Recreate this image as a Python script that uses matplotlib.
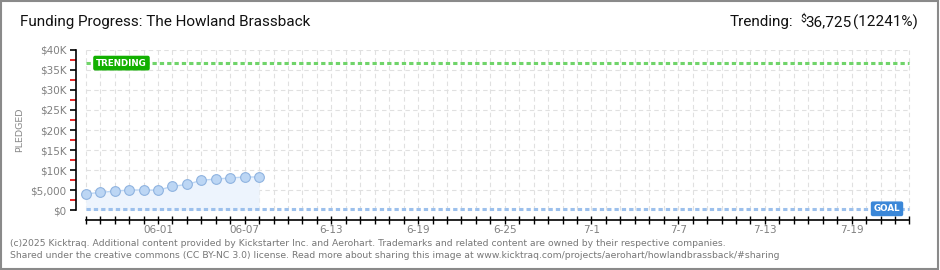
import matplotlib
matplotlib.use("Agg")
import matplotlib.pyplot as plt
from matplotlib.patches import Rectangle

# daily pledged totals, 05-27 .. 06-08
days = list(range(13))
pledged = [4000, 4400, 4700, 5000, 5000, 4950, 5900, 6400, 7400, 7750, 8000, 8250, 8250]
last_day = 57          # 07-23
goal = 300
trending = 36725

tick_days = [5, 11, 17, 23, 29, 35, 41, 47, 53]
tick_labels = ["06-01", "06-07", "6-13", "6-19", "6-25", "7-1", "7-7", "7-13", "7-19"]
ytick_vals = [0, 5000, 10000, 15000, 20000, 25000, 30000, 35000, 40000]
ytick_labels = ["$0", "$5,000", "$10K", "$15K", "$20K", "$25K", "$30K", "$35K", "$40K"]

W, H = 940, 270
fig = plt.figure(figsize=(W / 100, H / 100), dpi=100)
fig.patch.set_facecolor("white")
fig.patches.append(Rectangle((0.001, 0.002), 0.997, 0.994, transform=fig.transFigure,
                             fill=False, edgecolor="#8a8a8a", linewidth=1.5))

ax = fig.add_axes([76 / W, (H - 220) / H, (911 - 76) / W, 170 / H])
ax.set_xlim(-0.671, 57.11)
ax.set_ylim(-2500, 40000)
ax.patch.set_alpha(0)

# grid
gcol = "#e0e0e0"
for d in range(0, last_day + 1):
    ax.plot([d, d], [0, 40000], color=gcol, lw=0.8, dashes=(4, 3), zorder=1)
for v in ytick_vals[1:]:
    ax.plot([0, last_day], [v, v], color=gcol, lw=0.8, dashes=(4, 3), zorder=1)

# pledged series
ax.fill_between(days, pledged, 0, color="#edf4fd", zorder=2, lw=0)
ax.plot(days, pledged, color="#bcd6f4", lw=1, zorder=3)
ax.plot(days, pledged, "o", ms=7, mfc="#bcd6f4", mec="#8fb3e0", mew=0.8, zorder=4)

# goal and trending lines
ax.plot([0, last_day], [goal, goal], color="#9cc0ec", lw=2.2, dashes=(1.4, 1.0), zorder=3)
ax.plot([0, last_day], [trending, trending], color="#70d46a", lw=2.2, dashes=(1.4, 1.0), zorder=3)

ax.text(0.72, trending, "TRENDING", color="white", fontsize=6.3, fontweight="bold",
        ha="left", va="center", zorder=6,
        bbox=dict(boxstyle="round,pad=0.25,rounding_size=0.15", fc="#12b000", ec="#12b000"))
ax.text(55.45, goal, "GOAL", color="white", fontsize=6.3, fontweight="bold",
        ha="center", va="center", zorder=6,
        bbox=dict(boxstyle="round,pad=0.25,rounding_size=0.15", fc="#3a87d8", ec="#3a87d8"))

# axes
for s in ["top", "right"]:
    ax.spines[s].set_visible(False)
ax.spines["left"].set_bounds(0, 40000)
ax.spines["bottom"].set_bounds(0, last_day)
ax.spines["left"].set_linewidth(1.2)
ax.spines["bottom"].set_linewidth(1.2)

ax.set_yticks(ytick_vals)
ax.set_yticklabels(ytick_labels)
ax.set_yticks([v + 2500 for v in ytick_vals[:-1]], minor=True)
ax.tick_params(axis="y", which="major", length=4, width=1.2, color="black",
               labelsize=7.5, labelcolor="#808080", pad=3)
ax.tick_params(axis="y", which="minor", length=4, width=1.2, color="#e00000")

ax.set_xticks(range(0, last_day + 1))
ax.set_xticklabels(["" for _ in range(last_day + 1)])
ax.tick_params(axis="x", length=6, width=1, direction="inout", color="black")
for d, lab in zip(tick_days, tick_labels):
    ax.text(d, -3700, lab, ha="center", va="top", fontsize=7.5, color="#808080")

fig.text(20 / W, 1 - 130 / H, "PLEDGED", rotation=90, ha="center", va="center",
         fontsize=6.8, color="#888888")

title_font = ["Roboto", "DejaVu Sans"]
fig.text(20 / W, 1 - 22 / H, "Funding Progress: The Howland Brassback",
         fontsize=11, color="#111111", ha="left", va="center", family=title_font)
fig.text(918 / W, 1 - 22 / H, "(12241%)", fontsize=11, color="#111111",
         ha="right", va="center", family=title_font)
fig.text(852 / W, 1 - 22 / H, "36,725", fontsize=11, color="#111111",
         ha="right", va="center", family=title_font)
fig.text(806 / W, 1 - 19 / H, "\\$", fontsize=7.5, color="#111111",
         ha="right", va="center", family=title_font)
fig.text(793 / W, 1 - 22 / H, "Trending:", fontsize=11, color="#111111",
         ha="right", va="center", family=title_font)

fig.text(10 / W, 1 - 243 / H,
         "(c)2025 Kicktraq. Additional content provided by Kickstarter Inc. and Aerohart. "
         "Trademarks and related content are owned by their respective companies.",
         fontsize=6.65, color="#777777", ha="left", va="center")
fig.text(10 / W, 1 - 256 / H,
         "Shared under the creative commons (CC BY-NC 3.0) license. Read more about sharing "
         "this image at www.kicktraq.com/projects/aerohart/howlandbrassback/#sharing",
         fontsize=6.65, color="#777777", ha="left", va="center")

fig.savefig("out.png", dpi=100)
